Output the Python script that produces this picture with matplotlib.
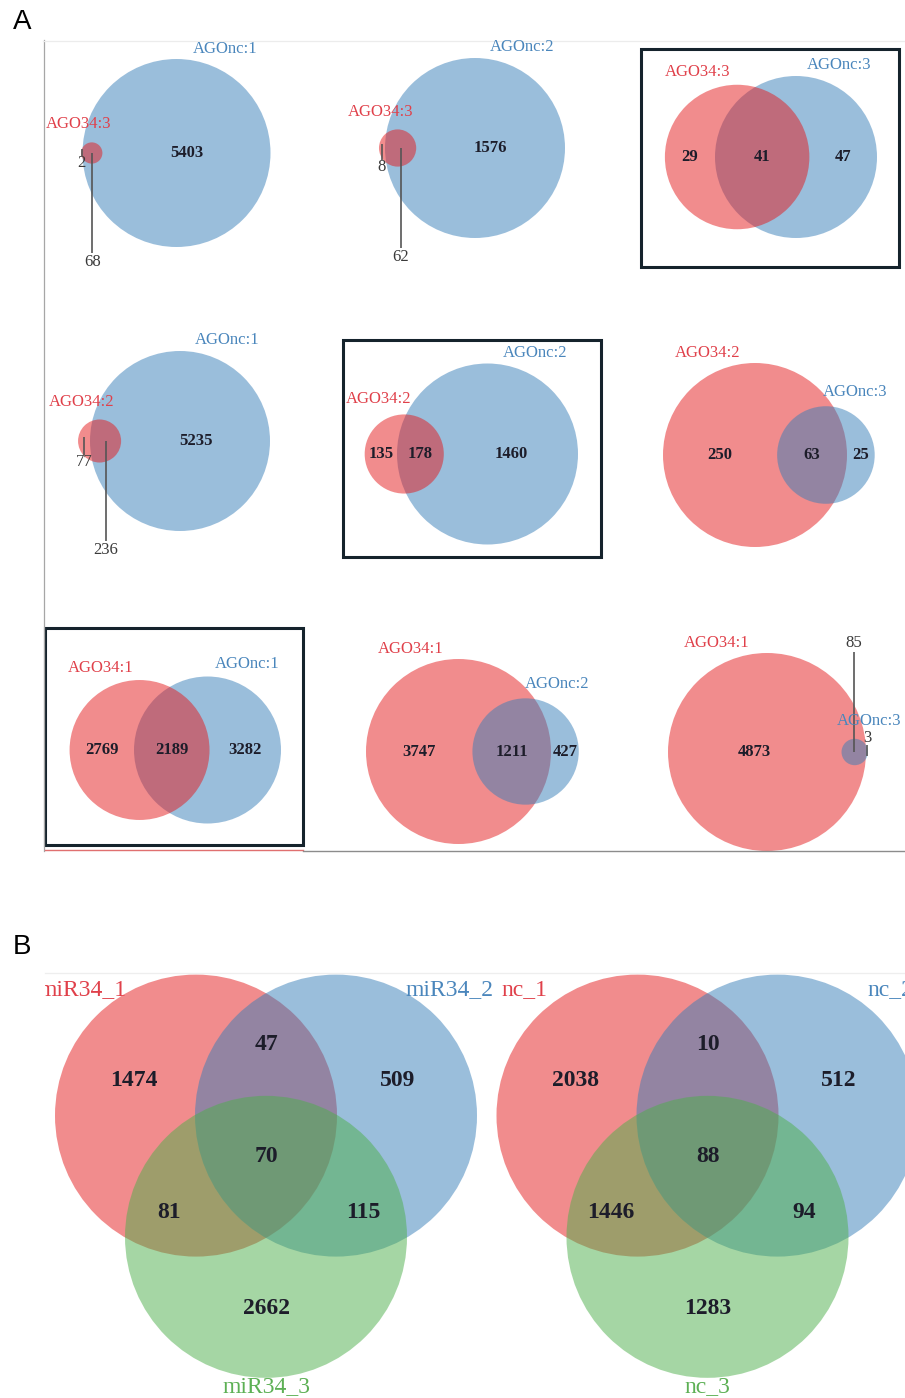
import numpy as np
import matplotlib
matplotlib.use("Agg")
import matplotlib.pyplot as plt
from matplotlib.patches import Circle, Rectangle

# ---------------- data ----------------
# Panel A: pairwise overlaps of AGO34 replicates vs AGOnc replicates
A_LEFT_SETS = ["AGO34:3", "AGO34:3", "AGO34:3",
               "AGO34:2", "AGO34:2", "AGO34:2",
               "AGO34:1", "AGO34:1", "AGO34:1"]
A_RIGHT_SETS = ["AGOnc:1", "AGOnc:2", "AGOnc:3",
                "AGOnc:1", "AGOnc:2", "AGOnc:3",
                "AGOnc:1", "AGOnc:2", "AGOnc:3"]
A_LEFT_ONLY = [2, 8, 29, 77, 135, 250, 2769, 3747, 4873]
A_SHARED = [68, 62, 41, 236, 178, 63, 2189, 1211, 85]
A_RIGHT_ONLY = [5403, 1576, 47, 5235, 1460, 25, 3282, 427, 3]

# Panel B: three-way overlaps; region order 1, 2, 3, 1&2, 1&3, 2&3, 1&2&3
B_SETS_MIR = ["miR34_1", "miR34_2", "miR34_3"]
B_COUNTS_MIR = [1474, 509, 2662, 47, 81, 115, 70]
B_SETS_NC = ["nc_1", "nc_2", "nc_3"]
B_COUNTS_NC = [2038, 512, 1283, 10, 1446, 94, 88]

# ---------------- style / layout ----------------
W, H = 905, 1398
RED, BLUE, GREEN = "#E41A1C", "#377EB8", "#4DAF4A"
LBL_RED, LBL_BLUE, LBL_GREEN = "#E0404A", "#4A86BC", "#5DB055"
NUM_COLOR = "#1d1d2a"
CALLOUT_COLOR = "#3a3a3a"
ALPHA = 0.5
SERIF = ["Liberation Serif", "DejaVu Serif"]

# centre of the larger circle, its radius, callout direction (0 = none),
# offset of the short callout label, frame box
A_LAYOUT = [
    dict(big=(176.5, 153), R=94, callout=1, short=10, box=None),
    dict(big=(475, 148), R=90, callout=1, short=19, box=None),
    dict(big=(796, 157), R=81, callout=0, short=0, box=(641, 49, 899, 267)),
    dict(big=(180, 441), R=90, callout=1, short=21, box=None),
    dict(big=(487.5, 454), R=90.5, callout=0, short=0, box=(343, 340, 601, 557)),
    dict(big=(755, 455), R=92, callout=0, short=0, box=None),
    dict(big=(207.5, 750), R=73.5, callout=0, short=0, box=(45, 628, 303, 845)),
    dict(big=(458.5, 751.5), R=92.5, callout=0, short=0, box=None),
    dict(big=(767, 752), R=99, callout=-1, short=14, box=None),
]
B_LAYOUT = [dict(centroid=(266, 1156)), dict(centroid=(707.5, 1156))]
B_RADIUS = 141
B_SPACING = 140

plt.rcParams["font.family"] = SERIF
fig = plt.figure(figsize=(W / 100, H / 100), dpi=100)


def px_axes(x0, y0, x1, y1):
    ax = fig.add_axes([x0 / W, 1 - y1 / H, (x1 - x0) / W, (y1 - y0) / H])
    ax.set_xlim(x0, x1)
    ax.set_ylim(y1, y0)
    ax.set_aspect("equal", adjustable="datalim")
    ax.axis("off")
    return ax


def lens_area(r1, r2, d):
    if d >= r1 + r2:
        return 0.0
    if d <= abs(r1 - r2):
        return np.pi * min(r1, r2) ** 2
    a1 = np.arccos((d * d + r1 * r1 - r2 * r2) / (2 * d * r1))
    a2 = np.arccos((d * d + r2 * r2 - r1 * r1) / (2 * d * r2))
    k = np.sqrt((-d + r1 + r2) * (d + r1 - r2) * (d - r1 + r2) * (d + r1 + r2))
    return r1 * r1 * a1 + r2 * r2 * a2 - 0.5 * k


def separation(r1, r2, target):
    lo, hi = abs(r1 - r2), r1 + r2
    for _ in range(80):
        mid = 0.5 * (lo + hi)
        if lens_area(r1, r2, mid) > target:
            lo = mid
        else:
            hi = mid
    return 0.5 * (lo + hi)


def num(ax, x, y, v, size, weight="bold", color=NUM_COLOR):
    ax.text(x, y, str(v), ha="center", va="center", fontsize=size,
            fontweight=weight, color=color, clip_on=True)


# ---------------- panel A ----------------
axA = px_axes(43, 40, 905, 851)
ang = np.deg2rad(25)
for i in range(9):
    lay = A_LAYOUT[i]
    lt = A_LEFT_ONLY[i] + A_SHARED[i]
    rt = A_RIGHT_ONLY[i] + A_SHARED[i]
    R = lay["R"]
    bx, cy = lay["big"]
    big_total = max(lt, rt)
    if lt >= rt:
        rl, rr = R, R * np.sqrt(rt / lt)
    else:
        rl, rr = R * np.sqrt(lt / rt), R
    d = separation(rl, rr, A_SHARED[i] * np.pi * R ** 2 / big_total)
    if lt >= rt:
        cl, cr = bx, bx + d
    else:
        cl, cr = bx - d, bx
    left_c = Circle((cl, cy), rl, fc=RED, alpha=ALPHA, lw=0)
    right_c = Circle((cr, cy), rr, fc=BLUE, alpha=ALPHA, lw=0)
    order = [left_c, right_c] if rl >= rr else [right_c, left_c]
    for c in order:
        axA.add_patch(c)

    # category labels
    axA.text(cl - (rl + 21) * np.sin(ang), cy - (rl + 21) * np.cos(ang),
             A_LEFT_SETS[i], ha="center", va="center", fontsize=12,
             color=LBL_RED, clip_on=True)
    axA.text(cr + (rr + 21) * np.sin(ang), cy - (rr + 21) * np.cos(ang),
             A_RIGHT_SETS[i], ha="center", va="center", fontsize=12,
             color=LBL_BLUE, clip_on=True)

    # region counts
    x_lu = ((cl - rl) + (cr - rr)) / 2
    x_ov = ((cr - rr) + (cl + rl)) / 2
    x_ru = ((cl + rl) + (cr + rr)) / 2
    s = lay["callout"]
    if s == 0:
        num(axA, x_lu, cy, A_LEFT_ONLY[i], 12)
        num(axA, x_ov, cy, A_SHARED[i], 12)
        num(axA, x_ru, cy, A_RIGHT_ONLY[i], 12)
    else:
        small_left = rl < rr
        x_small = x_lu if small_left else x_ru
        v_small = A_LEFT_ONLY[i] if small_left else A_RIGHT_ONLY[i]
        x_big = x_ru if small_left else x_lu
        v_big = A_RIGHT_ONLY[i] if small_left else A_LEFT_ONLY[i]
        num(axA, x_big, cy, v_big, 12)
        axA.plot([x_ov, x_ov], [cy, cy + s * 100], color="#555555", lw=1.2,
                 solid_capstyle="butt")
        num(axA, x_ov, cy + s * 109, A_SHARED[i], 12, weight="normal",
            color=CALLOUT_COLOR)
        off = lay["short"]
        axA.plot([x_small, x_small], [cy - s * 4, cy + s * (off - 7)],
                 color="#555555", lw=1.2, solid_capstyle="butt")
        num(axA, x_small, cy + s * off, v_small, 12, weight="normal",
            color=CALLOUT_COLOR)

    if lay["box"] is not None:
        x0, y0, x1, y1 = lay["box"]
        axA.add_patch(Rectangle((x0, y0), x1 - x0, y1 - y0, fill=False,
                                ec="#15232C", lw=2.2))

# thin frame around panel A
axA.plot([43.5, 43.5], [40, 851], color="#a6a6a6", lw=0.9, clip_on=False)
axA.plot([43, 905], [40.5, 40.5], color="#ececec", lw=0.9, clip_on=False)
axA.plot([45, 303], [850, 850], color="#e07070", lw=1.0, clip_on=False)
axA.plot([303, 905], [851, 851], color="#8c8c8c", lw=1.0, clip_on=False)

# ---------------- panel B ----------------
axB = px_axes(45, 972, 905, 1398)
dirs = [np.deg2rad(150), np.deg2rad(30), np.deg2rad(270)]  # math angles, y up
cat_pos = [(-42, 28), (42, 28), (180, 9)]
colors = [RED, BLUE, GREEN]
lbl_colors = [LBL_RED, LBL_BLUE, LBL_GREEN]
for lay, names, counts in zip(B_LAYOUT, [B_SETS_MIR, B_SETS_NC],
                              [B_COUNTS_MIR, B_COUNTS_NC]):
    gx, gy = lay["centroid"]
    rc = B_SPACING / np.sqrt(3)
    unit = [(np.cos(a), -np.sin(a)) for a in dirs]  # image coords (y down)
    centers = [(gx + rc * u[0], gy + rc * u[1]) for u in unit]
    for (x, y), c in zip(centers, colors):
        axB.add_patch(Circle((x, y), B_RADIUS, fc=c, alpha=ALPHA, lw=0))
    # category labels
    for (x, y), name, col, (pa, pd) in zip(centers, names, lbl_colors, cat_pos):
        a = np.deg2rad(pa)
        dist = B_RADIUS + pd
        axB.text(x + dist * np.sin(a), y - dist * np.cos(a), name,
                 ha="center", va="center", fontsize=17, color=col, clip_on=True)
    # single-set regions
    for k in range(3):
        num(axB, gx + 152 * unit[k][0], gy + 152 * unit[k][1], counts[k], 17)
    # pairwise regions sit opposite the third circle
    pairs = [(3, 2), (4, 1), (5, 0)]
    for idx, third in pairs:
        u = unit[third]
        num(axB, gx - 112 * u[0], gy - 112 * u[1], counts[idx], 17)
    num(axB, gx, gy, counts[6], 17)

axB.plot([45, 905], [972.5, 972.5], color="#eeeeee", lw=0.9, clip_on=False)

# panel letters
fig.text(22 / W, 1 - 22 / H, "A", fontsize=20, family="Liberation Sans",
         ha="center", va="center")
fig.text(22 / W, 1 - 947 / H, "B", fontsize=20, family="Liberation Sans",
         ha="center", va="center")

fig.savefig("out.png", dpi=100, facecolor="white")
